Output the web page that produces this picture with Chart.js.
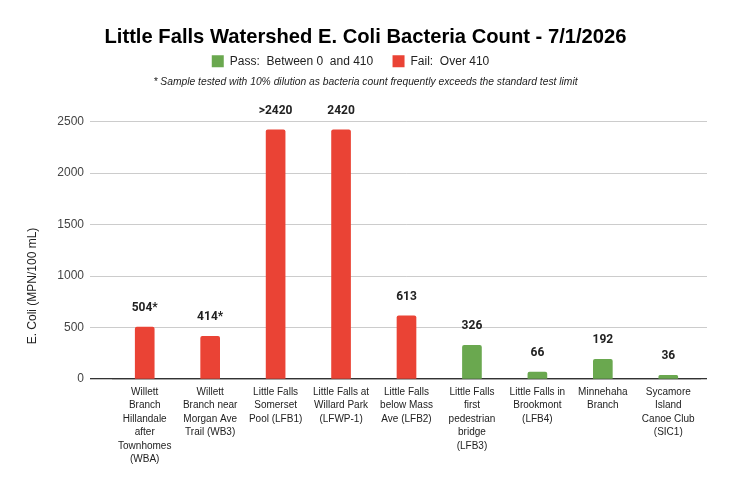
<!DOCTYPE html>
<html>
<head>
<meta charset="utf-8">
<script src="https://cdn.jsdelivr.net/npm/chart.js@4/dist/chart.umd.min.js"></script>
<style>
  body { margin: 0; background: #fff; }
  #wrap { width: 731px; height: 487px; }
</style>
</head>
<body>
<div id="wrap"><canvas id="chart"></canvas></div>
<script>
// sites along the watershed, upstream to downstream
var sites = [
	["Willett", "Branch", "Hillandale", "after", "Townhomes", "(WBA)"],
	["Willett", "Branch near", "Morgan Ave", "Trail (WB3)"],
	["Little Falls", "Somerset", "Pool (LFB1)"],
	["Little Falls at", "Willard Park", "(LFWP-1)"],
	["Little Falls", "below Mass", "Ave (LFB2)"],
	["Little Falls", "first", "pedestrian", "bridge", "(LFB3)"],
	["Little Falls in", "Brookmont", "(LFB4)"],
	["Minnehaha", "Branch"],
	["Sycamore", "Island", "Canoe Club", "(SIC1)"]
];
// E. coli count, MPN/100 mL (null = not in that group)
var passVals = [null, null, null, null, null, 326, 66, 192, 36];
var failVals = [504, 414, 2420, 2420, 613, null, null, null, null];
var valueLabels = ["504*", "414*", ">2420", "2420", "613", "326", "66", "192", "36"];
var yTicks = [0, 500, 1000, 1500, 2000, 2500];

var GREEN = "#6aa84f";
var RED = "#ea4335";
var FONT = "'Liberation Sans', Arial, sans-serif";

// numbers over the bars
var barLabels = {
	id: "barLabels",
	afterDatasetsDraw: function(chart) {
		var ctx = chart.ctx;
		ctx.save();
		ctx.font = "bold 12px Roboto, 'Liberation Sans', sans-serif";
		ctx.fillStyle = "#222";
		ctx.textAlign = "center";
		ctx.textBaseline = "middle";
		chart.data.datasets.forEach(function(ds, d) {
			var meta = chart.getDatasetMeta(d);
			meta.data.forEach(function(bar, i) {
				if (ds.data[i] == null) return;
				ctx.fillText(valueLabels[i], bar.x, bar.y - 19);
			});
		});
		ctx.restore();
	}
};

// y axis title sits a bit low in the original, so draw it by hand
var yTitle = {
	id: "yTitle",
	afterDraw: function(chart) {
		var ctx = chart.ctx;
		ctx.save();
		ctx.translate(33, 286);
		ctx.rotate(-Math.PI / 2);
		ctx.font = "12px " + FONT;
		ctx.fillStyle = "#222";
		ctx.textAlign = "center";
		ctx.textBaseline = "middle";
		ctx.fillText("E. Coli (MPN/100 mL)", 0, 0);
		ctx.restore();
	}
};

// the legend sits a little left of centre in the original
var legendShift = {
	id: "legendShift",
	afterLayout: function(chart) {
		if (!chart.legend) return;
		chart.legend.left -= 15;
		chart.legend.right -= 15;
	}
};

function gridColor(c) { return c.tick && c.tick.value === 0 ? "#333" : "#cccccc"; }
function gridWidth(c) { return c.tick && c.tick.value === 0 ? 1.3 : 1; }
function setTicks(scale) {
	scale.ticks = yTicks.map(function(v) { return { value: v }; });
}

var chartObj = new Chart(document.getElementById("chart"), {
	type: "bar",
	data: {
		labels: sites,
		datasets: [
			{
				label: "Pass:  Between 0  and 410    ",
				data: passVals,
				backgroundColor: GREEN,
				borderWidth: 0
			},
			{
				label: "Fail:  Over 410",
				data: failVals,
				backgroundColor: RED,
				borderWidth: 0
			}
		]
	},
	options: {
		responsive: true,
		maintainAspectRatio: false,
		animation: false,
		layout: { padding: { left: 0, right: 0, top: 0, bottom: 15 } },
		datasets: {
			bar: {
				grouped: false,
				barThickness: 19,
				borderRadius: { topLeft: 2, topRight: 2 },
				borderSkipped: "start"
			}
		},
		plugins: {
			title: {
				display: true,
				text: "Little Falls Watershed E. Coli Bacteria Count - 7/1/2026",
				color: "#000",
				font: { family: FONT, size: 20.2, weight: "bold" },
				padding: { top: 25, bottom: 0 }
			},
			legend: {
				display: true,
				labels: {
					boxWidth: 12,
					boxHeight: 12,
					padding: 6,
					color: "#222",
					font: { family: FONT, size: 12 }
				}
			},
			subtitle: {
				display: true,
				weight: 500,
				text: "* Sample tested with 10% dilution as bacteria count frequently exceeds the standard test limit",
				color: "#222",
				font: { family: FONT, size: 10.3, style: "italic" },
				padding: { top: -1, bottom: 33 }
			},
			tooltip: { enabled: false }
		},
		scales: {
			x: {
				grid: { display: false, drawTicks: false },
				border: { display: false },
				ticks: {
					color: "#222",
					maxRotation: 0,
					autoSkip: false,
					padding: 6,
					font: { family: FONT, size: 10, lineHeight: 1.35 }
				}
			},
			y: {
				min: 0,
				max: 2500,
				afterFit: function(scale) { scale.width = 112; },
				afterBuildTicks: setTicks,
				border: { display: false },
				grid: { drawTicks: true, tickLength: 22, color: gridColor, lineWidth: gridWidth },
				ticks: {
					color: "#444",
					padding: 6,
					font: { family: FONT, size: 12 },
					callback: function(v) { return String(v); }
				}
			},
			// empty right axis: keeps the plot off the right edge and runs the grid out a few px
			yRight: {
				position: "right",
				min: 0,
				max: 2500,
				afterFit: function(scale) { scale.width = 30; },
				afterBuildTicks: setTicks,
				border: { display: false },
				grid: { drawTicks: true, tickLength: 6, color: gridColor, lineWidth: gridWidth },
				ticks: { display: false }
			}
		}
	},
	plugins: [barLabels, yTitle, legendShift]
});
</script>
</body>
</html>
